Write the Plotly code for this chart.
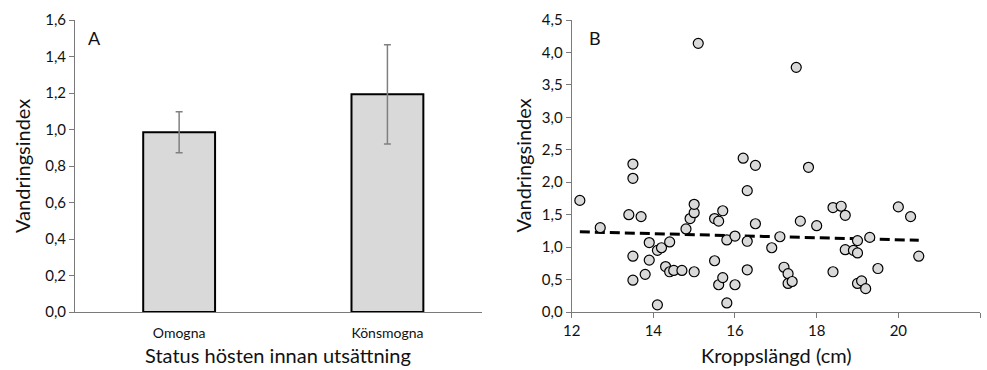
import numpy as np
import plotly.graph_objects as go

# ---- Panel A data ----
status = ["Omogna", "Könsmogna"]
index_mean = [0.985, 1.193]
index_err = [0.112, 0.272]

# ---- Panel B data ----
length_cm = [12.2, 12.7, 13.4, 13.5, 13.5, 13.5, 13.5, 13.7, 13.8, 13.9, 13.9, 14.1, 14.1, 14.2,
             14.3, 14.4, 14.4, 14.5, 14.7, 14.8, 14.9, 15.0, 15.0, 15.0, 15.1, 15.5, 15.5, 15.6,
             15.6, 15.7, 15.7, 15.8, 15.8, 16.0, 16.0, 16.2, 16.3, 16.3, 16.3, 16.5, 16.5, 16.9,
             17.1, 17.2, 17.3, 17.3, 17.4, 17.5, 17.6, 17.8, 18.0, 18.4, 18.4, 18.6, 18.7, 18.7,
             18.9, 19.0, 19.0, 19.0, 19.1, 19.2, 19.3, 19.5, 20.0, 20.3, 20.5]
migr_index = [1.72, 1.30, 1.50, 2.28, 2.06, 0.86, 0.49, 1.47, 0.58, 1.07, 0.80, 0.11, 0.95, 0.99,
              0.70, 1.08, 0.62, 0.64, 0.64, 1.28, 1.44, 1.53, 1.66, 0.62, 4.14, 0.79, 1.44, 1.40,
              0.42, 1.56, 0.53, 1.11, 0.14, 1.17, 0.42, 2.37, 1.87, 1.09, 0.65, 2.26, 1.36, 0.99,
              1.16, 0.69, 0.59, 0.44, 0.47, 3.77, 1.40, 2.23, 1.33, 1.61, 0.62, 1.63, 1.49, 0.96,
              0.95, 1.10, 0.91, 0.44, 0.48, 0.36, 1.15, 0.67, 1.62, 1.47, 0.86]

y_ticks_a = [0.0, 0.2, 0.4, 0.6, 0.8, 1.0, 1.2, 1.4, 1.6]
y_ticks_b = [0.0, 0.5, 1.0, 1.5, 2.0, 2.5, 3.0, 3.5, 4.0, 4.5]
x_ticks_b = [12, 14, 16, 18, 20, 22]

FONT = "Lato"
AXC = "#7a7a7a"
TXT = "#111111"

slope, intercept = np.polyfit(length_cm, migr_index, 1)
xt = np.array([min(length_cm), max(length_cm)])
yt = slope * xt + intercept

fig = go.Figure()
fig.add_trace(go.Bar(
    x=[0, 1], y=index_mean, width=0.345,
    marker=dict(color="#d9d9d9", line=dict(color="black", width=2)),
    error_y=dict(type="data", array=index_err, color="#808080", thickness=1.5, width=3.5),
    xaxis="x", yaxis="y", showlegend=False))

fig.add_trace(go.Scatter(
    x=xt, y=yt, mode="lines",
    line=dict(color="black", width=3, dash="10px,5px"),
    xaxis="x2", yaxis="y2", showlegend=False))

fig.add_trace(go.Scatter(
    x=length_cm, y=migr_index, mode="markers",
    marker=dict(size=10, color="#d9d9d9", line=dict(color="black", width=1.2)),
    xaxis="x2", yaxis="y2", showlegend=False))

tickfont = dict(family=FONT, size=15, color=TXT)
common_y = dict(showline=True, linecolor=AXC, linewidth=1, ticks="outside", ticklen=5,
                tickcolor=AXC, showgrid=False, zeroline=False, tickfont=tickfont,
                tickformat=".1f")

fig.update_layout(
    width=987, height=370,
    margin=dict(l=75, r=7, t=20, b=58),
    paper_bgcolor="white", plot_bgcolor="white",
    separators=", ",
    xaxis=dict(domain=[0, 0.4497], range=[-0.5, 1.454], tickvals=[0, 1], ticktext=status,
               showline=True, linecolor=AXC, linewidth=1, ticks="", showgrid=False,
               zeroline=False, tickfont=dict(family=FONT, size=14, color=TXT),
               ticklabelstandoff=8, anchor="y"),
    yaxis=dict(domain=[0, 1], range=[0, 1.6], tickvals=y_ticks_a, anchor="x", **common_y),
    xaxis2=dict(domain=[0.5488, 1], range=[12, 22], tickvals=x_ticks_b,
                showline=True, linecolor=AXC, linewidth=1, ticks="outside", ticklen=5,
                tickcolor=AXC, showgrid=False, zeroline=False, tickfont=tickfont, anchor="y2"),
    yaxis2=dict(domain=[0, 1], range=[0, 4.5], tickvals=y_ticks_b, anchor="x2", **common_y),
)

tfont = dict(family=FONT, size=20, color=TXT)
ann = [
    dict(text="A", xref="x domain", yref="y domain", x=0.028, y=0.94, xanchor="left",
         yanchor="middle", showarrow=False, font=dict(family=FONT, size=18, color=TXT)),
    dict(text="B", xref="x2 domain", yref="y2 domain", x=0.037, y=0.94, xanchor="left",
         yanchor="middle", showarrow=False, font=dict(family=FONT, size=18, color=TXT)),
    dict(text="Vandringsindex", xref="paper", yref="paper", x=-0.0586, y=0.5, textangle=-90,
         xanchor="center", yanchor="middle", showarrow=False, font=tfont),
    dict(text="Vandringsindex", xref="paper", yref="paper", x=0.4945, y=0.5, textangle=-90,
         xanchor="center", yanchor="middle", showarrow=False, font=tfont),
    dict(text="Status hösten innan utsättning", xref="paper", yref="paper", x=0.2238, y=-0.148,
         xanchor="center", yanchor="middle", showarrow=False, font=tfont),
    dict(text="Kroppslängd (cm)", xref="paper", yref="paper", x=0.7753, y=-0.148,
         xanchor="center", yanchor="middle", showarrow=False, font=tfont),
]
fig.update_layout(annotations=ann)

fig.write_html("out.html")
